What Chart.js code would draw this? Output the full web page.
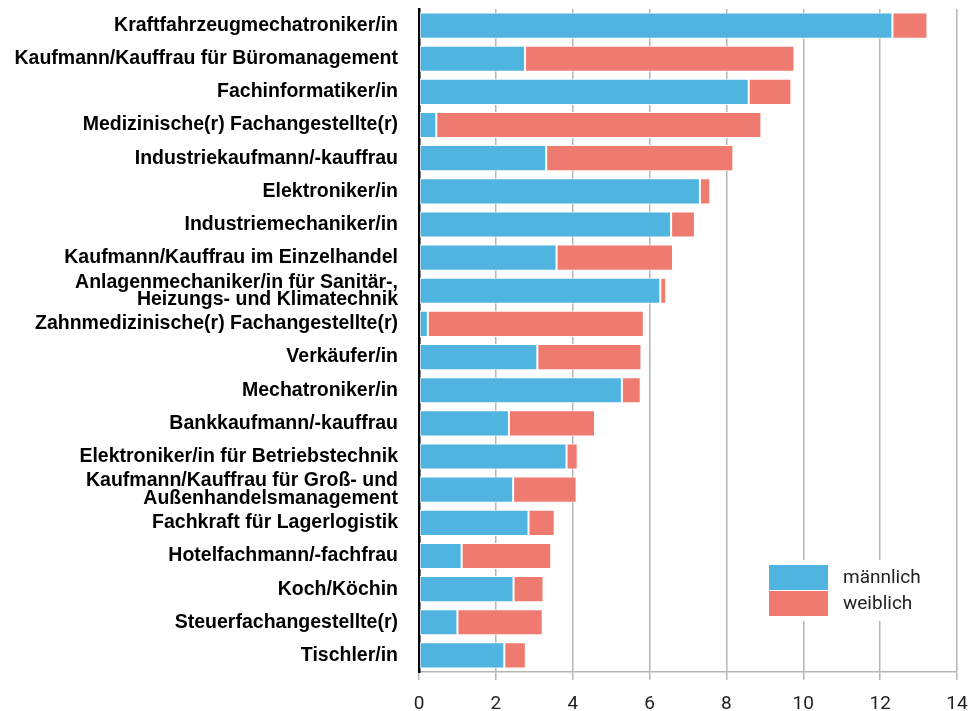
<!DOCTYPE html>
<html>
<head>
<meta charset="utf-8">
<script src="https://cdn.jsdelivr.net/npm/chart.js@4.4.0/dist/chart.umd.min.js"></script>
<style>
  body { margin: 0; background: #fff; }
</style>
</head>
<body>
<canvas id="myChart" width="969" height="711"></canvas>
<script>
var berufe = [
    'Kraftfahrzeugmechatroniker/in',
    'Kaufmann/Kauffrau für Büromanagement',
    'Fachinformatiker/in',
    'Medizinische(r) Fachangestellte(r)',
    'Industriekaufmann/-kauffrau',
    'Elektroniker/in',
    'Industriemechaniker/in',
    'Kaufmann/Kauffrau im Einzelhandel',
    ['Anlagenmechaniker/in für Sanitär-,', 'Heizungs- und Klimatechnik'],
    'Zahnmedizinische(r) Fachangestellte(r)',
    'Verkäufer/in',
    'Mechatroniker/in',
    'Bankkaufmann/-kauffrau',
    'Elektroniker/in für Betriebstechnik',
    ['Kaufmann/Kauffrau für Groß- und', 'Außenhandelsmanagement'],
    'Fachkraft für Lagerlogistik',
    'Hotelfachmann/-fachfrau',
    'Koch/Köchin',
    'Steuerfachangestellte(r)',
    'Tischler/in'
];

var maennlich = [12.32, 2.76, 8.58, 0.45, 3.31, 7.31, 6.56, 3.58, 6.28, 0.23,
                 3.08, 5.28, 2.34, 3.84, 2.45, 2.85, 1.11, 2.46, 1.00, 2.22];
var weiblich  = [0.91, 7.01, 1.11, 8.46, 4.87, 0.27, 0.62, 3.03, 0.15, 5.62,
                 2.71, 0.49, 2.24, 0.29, 1.65, 0.68, 2.33, 0.78, 2.22, 0.56];

var xTicks = [0, 2, 4, 6, 8, 10, 12, 14];

var blau = '#50b4e0';
var rot = '#ef7a70';

// legend drawn inside the chart area, bottom right, over the grid
var innerLegend = {
    id: 'innerLegend',
    afterDatasetsDraw: function (chart) {
        var ctx = chart.ctx;
        var a = chart.chartArea;
        var x = a.right - 205;
        var y = a.bottom - 112;
        ctx.save();
        ctx.fillStyle = '#fff';
        ctx.fillRect(x, y, 190, 61);
        var sets = chart.data.datasets;
        for (var i = 0; i < sets.length; i++) {
            var sy = y + 5 + i * 26;
            ctx.fillStyle = sets[i].backgroundColor;
            ctx.fillRect(x + 17, sy, 59, 25);
            ctx.fillStyle = '#222';
            ctx.font = '19px Roboto';
            ctx.textBaseline = 'middle';
            ctx.textAlign = 'left';
            ctx.fillText(sets[i].label, x + 91, sy + 13);
        }
        ctx.restore();
    }
};

var data = {
    labels: berufe,
    datasets: [
        {
            label: 'männlich',
            data: maennlich,
            backgroundColor: blau,
            borderColor: '#fff',
            borderWidth: 1,
            borderSkipped: false
        },
        {
            label: 'weiblich',
            data: weiblich,
            backgroundColor: rot,
            borderColor: '#fff',
            borderWidth: 1,
            borderSkipped: false
        }
    ]
};

var options = {
    indexAxis: 'y',
    responsive: false,
    animation: false,
    devicePixelRatio: 1,
    barPercentage: 0.79,
    categoryPercentage: 1,
    layout: { padding: { top: 9, right: 12, left: 0, bottom: 0 } },
    plugins: {
        legend: { display: false },
        tooltip: { enabled: false }
    },
    scales: {
        x: {
            stacked: true,
            min: 0,
            max: 14,
            afterBuildTicks: function (scale) {
                scale.ticks = xTicks.map(function (v) { return { value: v }; });
            },
            afterFit: function (scale) {
                scale.height = 39;
                scale.paddingLeft = 0;
                scale.paddingRight = 0;
            },
            grid: { color: '#b5b5b5', lineWidth: 1.5, tickLength: 8 },
            border: { color: '#b5b5b5', width: 1.5 },
            ticks: {
                padding: 13,
                color: '#222',
                font: { family: 'Roboto', size: 19 }
            }
        },
        y: {
            stacked: true,
            afterFit: function (scale) {
                scale.width = 419;
                scale.paddingTop = 0;
                scale.paddingBottom = 0;
            },
            grid: { display: false, drawTicks: false },
            border: { display: true, color: '#000', width: 2.5 },
            ticks: {
                padding: 21,
                color: '#000',
                autoSkip: false,
                font: { family: '"Liberation Sans", Arial, sans-serif', size: 19.5, weight: 'bold', lineHeight: 0.88 }
            }
        }
    }
};

new Chart(document.getElementById('myChart'), {
    type: 'bar',
    data: data,
    options: options,
    plugins: [innerLegend]
});
</script>
</body>
</html>
